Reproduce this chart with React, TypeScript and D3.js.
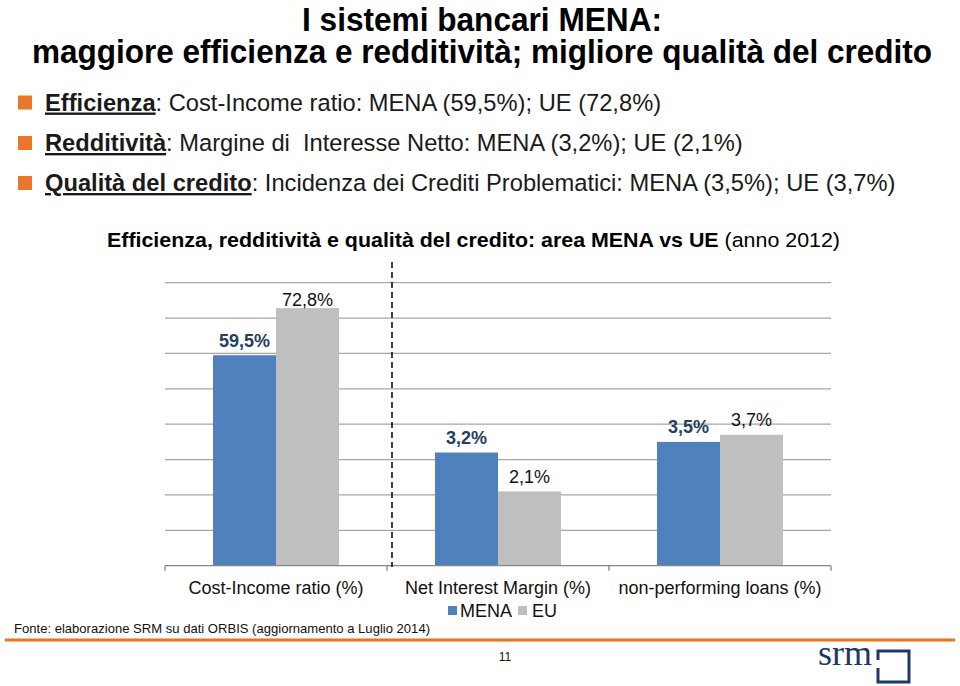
import React from "react";
import * as d3 from "d3";

const categories = ["Cost-Income ratio (%)", "Net Interest Margin (%)", "non-performing loans (%)"];
const seriesNames = ["MENA", "EU"];
const menaValues = [59.5, 3.2, 3.5];
const euValues = [72.8, 2.1, 3.7];
// which axis each category uses: 0 = primary (0-80), 1 = secondary (0-8)
const axisIndex = [0, 1, 1];
const primaryDomain = [0, 80];
const secondaryDomain = [0, 8];
const menaLabels = ["59,5%", "3,2%", "3,5%"];
const euLabels = ["72,8%", "2,1%", "3,7%"];

const titleLines = ["I sistemi bancari MENA:", "maggiore efficienza e redditività; migliore qualità del credito"];
const bulletBold = ["Efficienza", "Redditività", "Qualità del credito"];
const bulletRest = [
  ": Cost-Income ratio: MENA (59,5%); UE (72,8%)",
  ": Margine di\u00a0 Interesse Netto: MENA (3,2%); UE (2,1%)",
  ": Incidenza dei Crediti Problematici: MENA (3,5%); UE (3,7%)",
];
const chartTitleBold = "Efficienza, redditività e qualità del credito: area MENA vs UE ";
const chartTitleNormal = "(anno 2012)";
const sourceText = "Fonte: elaborazione SRM su dati ORBIS (aggiornamento a Luglio 2014)";
const pageNumber = "11";

const COLORS = { MENA: "#4F81BD", EU: "#BFBFBF" };
const FONT = "'Liberation Sans', Arial, Helvetica, sans-serif";

export default function App() {
  const W = 960, H = 686;
  const left = 165, right = 831, top = 282.7, bottom = 565.7;

  const x0 = d3.scaleBand<string>().domain(categories).range([left, right]).paddingInner(0).paddingOuter(0);
  const x1 = d3.scaleBand<string>().domain(seriesNames).range([0, x0.bandwidth()]).paddingInner(0).paddingOuter(0.762);
  const yP = d3.scaleLinear().domain(primaryDomain).range([bottom, top]);
  const yS = d3.scaleLinear().domain(secondaryDomain).range([bottom, top]);
  const scales = [yP, yS];
  const grid = yP.ticks(8);

  const tickXs = [...categories.map((c) => x0(c)!), right];
  const dashX = x0(categories[1])! + 5;

  const bulletBase = [110.5, 151, 191];

  return (
    <svg width={W} height={H} style={{ position: "absolute", left: 0, top: 0, background: "#fff" }} fontFamily={FONT}>
      <rect x={0} y={0} width={W} height={H} fill="#fff" />
      {/* Title */}
      <text x={482} y={31} textAnchor="middle" fontSize={34} fontWeight="bold" textLength={360} lengthAdjust="spacingAndGlyphs">
        {titleLines[0]}
      </text>
      <text x={482} y={63} textAnchor="middle" fontSize={32.5} fontWeight="bold" textLength={900} lengthAdjust="spacingAndGlyphs">
        {titleLines[1]}
      </text>

      {/* Bullets */}
      {bulletBold.map((b, i) => (
        <g key={b}>
          <rect x={18} y={bulletBase[i] - 15} width={14} height={14} fill="#E8762B" />
          <text x={45} y={bulletBase[i]} fontSize={23.7} fill="#1a1a1a">
            <tspan fontWeight="bold" style={{ textDecoration: "underline" }}>{b}</tspan>
            <tspan>{bulletRest[i]}</tspan>
          </text>
        </g>
      ))}

      {/* Chart title */}
      <text x={107} y={247} fontSize={20.5} textLength={733} lengthAdjust="spacingAndGlyphs" fill="#000">
        <tspan fontWeight="bold">{chartTitleBold}</tspan>
        <tspan>{chartTitleNormal}</tspan>
      </text>

      {/* Gridlines */}
      {grid.filter((t) => t !== 0).map((t) => (
        <line key={t} x1={left} x2={right} y1={yP(t)} y2={yP(t)} stroke="#A6A6A6" strokeWidth={1.3} />
      ))}

      {/* Bars */}
      {categories.map((c, i) => {
        const y = scales[axisIndex[i]];
        const vals = [menaValues[i], euValues[i]];
        return (
          <g key={c}>
            {seriesNames.map((s, j) => (
              <rect key={s} x={x0(c)! + x1(s)!} y={y(vals[j])} width={x1.bandwidth()} height={bottom - y(vals[j])} fill={(COLORS as any)[s]} />
            ))}
          </g>
        );
      })}

      {/* Value labels */}
      {categories.map((c, i) => {
        const y = scales[axisIndex[i]];
        const menaY = y(menaValues[i]) - 8.5;
        const euY = Math.max(y(euValues[i]) - 8.5, top + 23.5);
        return (
          <g key={c + "lab"}>
            <text x={x0(c)! + x1("MENA")! + x1.bandwidth() / 2} y={menaY} textAnchor="middle" fontSize={18} fontWeight="bold" fill="#243F60">
              {menaLabels[i]}
            </text>
            <text x={x0(c)! + x1("EU")! + x1.bandwidth() / 2} y={euY} textAnchor="middle" fontSize={18} fill="#111">
              {euLabels[i]}
            </text>
          </g>
        );
      })}

      {/* X axis */}
      <line x1={left} x2={right} y1={bottom} y2={bottom} stroke="#868686" strokeWidth={1.3} />
      {tickXs.map((tx, i) => (
        <line key={i} x1={tx} x2={tx} y1={bottom} y2={bottom + 5} stroke="#868686" strokeWidth={1.3} />
      ))}
      {categories.map((c) => (
        <text key={c + "ax"} x={x0(c)! + x0.bandwidth() / 2} y={594} textAnchor="middle" fontSize={18} fill="#111">
          {c}
        </text>
      ))}

      {/* Dashed separator */}
      <line x1={dashX} x2={dashX} y1={262} y2={567} stroke="#111" strokeWidth={1.6} strokeDasharray="6,4" />

      {/* Legend */}
      <rect x={448} y={606} width={9} height={9} fill={COLORS.MENA} />
      <text x={460} y={617} fontSize={18} fill="#111">MENA</text>
      <rect x={518} y={606} width={9} height={9} fill={COLORS.EU} />
      <text x={532} y={617} fontSize={18} fill="#111">EU</text>

      {/* Source */}
      <text x={14} y={633} fontSize={13} fill="#111" textLength={416} lengthAdjust="spacingAndGlyphs">{sourceText}</text>
      <line x1={5} x2={955} y1={640} y2={640} stroke="#E8731E" strokeWidth={3} />

      {/* Page number */}
      <text x={505} y={661} textAnchor="middle" fontSize={12} fill="#111">{pageNumber}</text>

      {/* Logo */}
      <text x={818} y={665} fontSize={36} fontFamily="'Liberation Serif', 'DejaVu Serif', serif" fill="#1F3864" textLength={54} lengthAdjust="spacingAndGlyphs">srm</text>
      <path d="M878,660 V651 H909 V682 H878 V668" fill="none" stroke="#1F3864" strokeWidth={3} />
    </svg>
  );
}
